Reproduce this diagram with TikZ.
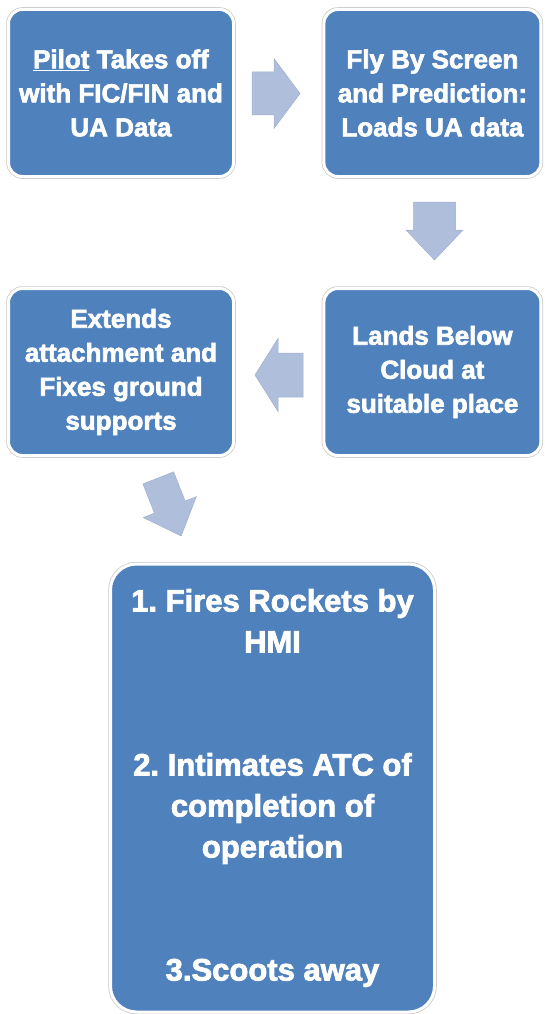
\documentclass[tikz,border=0pt]{standalone}
\usepackage{fontspec}
\setmainfont{Liberation Sans}[BoldFeatures={FakeBold=2.5}]
\frenchspacing
\definecolor{boxblue}{RGB}{79,129,189}
\definecolor{arrowfill}{RGB}{175,191,219}
\definecolor{arrowedge}{RGB}{158,176,208}
\definecolor{rimgray}{RGB}{200,200,200}
% block arrow: x, y, angle, shaft length, shaft width, head length, head width
\newcommand{\blockarrow}[7]{%
  \filldraw[flowarrow, shift={(#1,#2)}, rotate=#3]
    (0,{-#5/2}) -- (#4,{-#5/2}) -- (#4,{-#7/2}) -- ({#4+#6},0)
    -- (#4,{#7/2}) -- (#4,{#5/2}) -- (0,{#5/2}) -- cycle;}
\begin{document}
\begin{tikzpicture}[x=1pt,y=-1pt,
  stepbox/.style={rectangle, rounded corners=14pt, fill=boxblue, draw=white,
    line width=3pt, preaction={draw=rimgray, line width=4.5pt},
    text=white, align=center, inner sep=0pt,
    font=\bfseries\fontsize{26}{34}\selectfont},
  flowarrow/.style={fill=arrowfill, draw=arrowedge, line width=0.5pt}]
\useasboundingbox (0,0) rectangle (544,1014);

% process steps
\node[stepbox, minimum width=225pt, minimum height=167pt] (pilot) at (121,93)
  {\underline{Pilot} Takes off\\with FIC/FIN and\\UA Data};
\node[stepbox, minimum width=217pt, minimum height=167pt] (fly) at (432.4,93)
  {Fly By Screen\\and Prediction:\\Loads UA data};
\node[stepbox, minimum width=217pt, minimum height=167pt] (lands) at (432.4,372)
  {Lands Below\\Cloud at\\suitable place};
\node[stepbox, minimum width=225pt, minimum height=167pt] (extends) at (121,372)
  {Extends\\attachment and\\Fixes ground\\supports};
\node[stepbox, rounded corners=26pt, minimum width=324pt, minimum height=448pt,
  font=\bfseries\fontsize{31}{41}\selectfont] (fires) at (272.5,788)
  {1. Fires Rockets by\\HMI\\[82pt]2. Intimates ATC of\\completion of\\operation\\[82pt]3.Scoots away};

% block arrows between the steps
\blockarrow{252}{93.5}{0}{22}{43}{26}{70}
\blockarrow{434.5}{202}{-90}{28}{42}{30}{57}
\blockarrow{303}{375}{180}{25}{44}{23}{73}
\blockarrow{158.3}{477.9}{-68.5}{31.4}{33}{31}{57}
\end{tikzpicture}
\end{document}
